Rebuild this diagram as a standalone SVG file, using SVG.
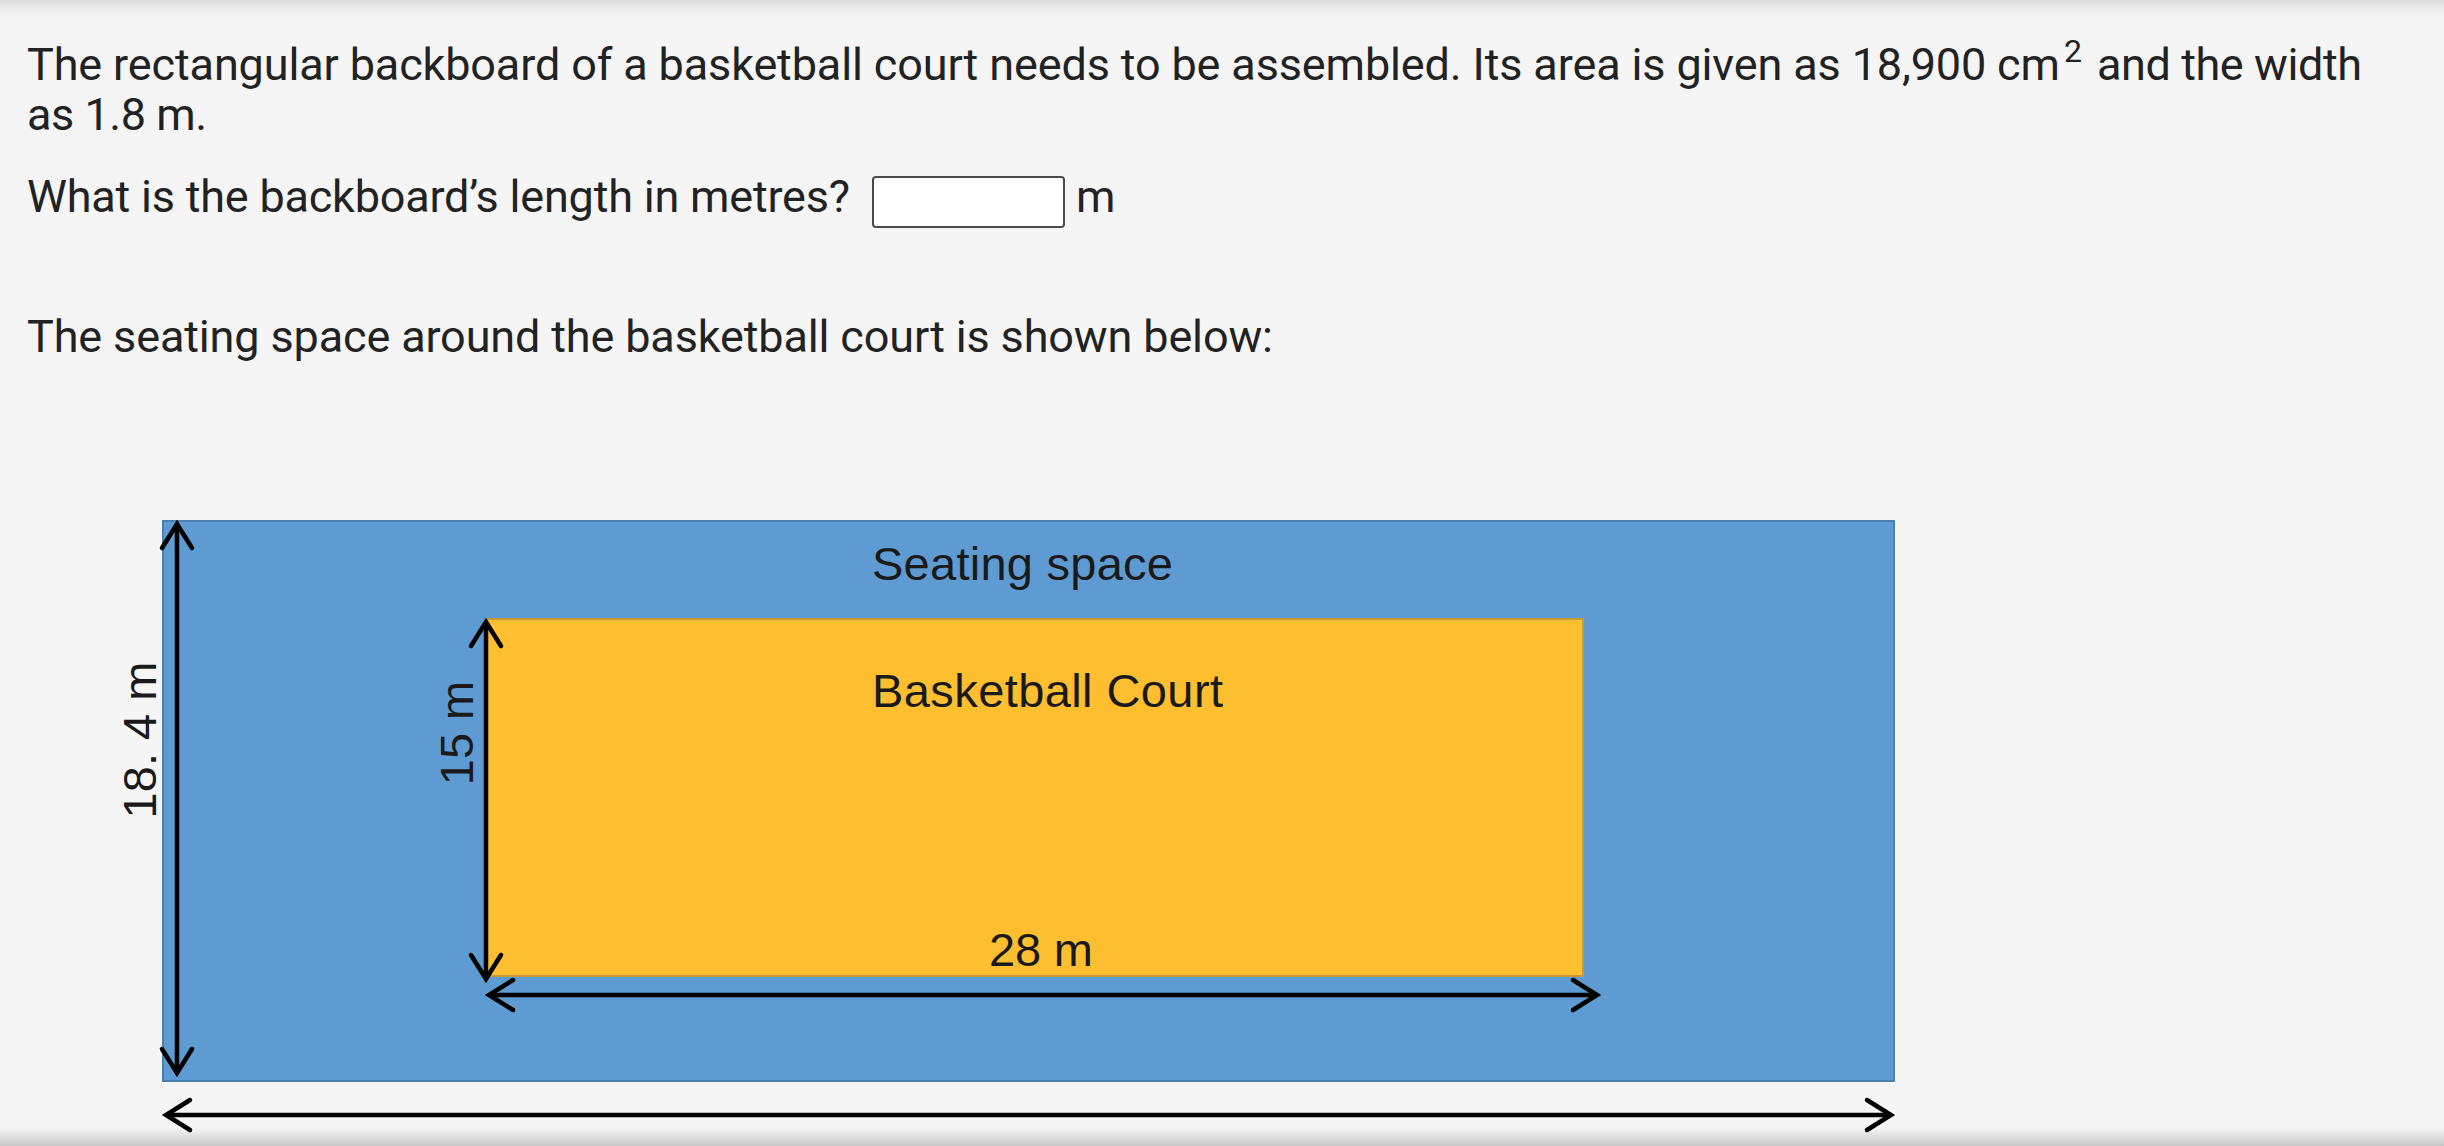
<svg xmlns="http://www.w3.org/2000/svg" width="2444" height="1146" viewBox="0 0 2444 1146">
  <defs>
    <linearGradient id="topShade" x1="0" y1="0" x2="0" y2="1">
      <stop offset="0" stop-color="#dedede"/>
      <stop offset="1" stop-color="#f5f5f5"/>
    </linearGradient>
    <linearGradient id="botShade" x1="0" y1="0" x2="0" y2="1">
      <stop offset="0" stop-color="#f5f5f5"/>
      <stop offset="1" stop-color="#c6c6c6"/>
    </linearGradient>
    <marker id="chev" markerUnits="userSpaceOnUse" markerWidth="60" markerHeight="60" refX="0" refY="0" viewBox="-30 -30 60 60" orient="auto-start-reverse" overflow="visible">
      <path d="M -24 -15 L 0 0 L -24 15" fill="none" stroke="#000" stroke-width="4.5" stroke-linecap="round" stroke-linejoin="miter"/>
    </marker>
    <style>
      .q { font-family: Roboto, "Liberation Sans", sans-serif; font-size: 45px; fill: #222222; }
      .lbl { font-family: "Liberation Sans", Arial, sans-serif; font-size: 47px; fill: #1a1a1a; }
      .dim { fill: none; stroke: #000; stroke-width: 4.5; marker-start: url(#chev); marker-end: url(#chev); }
    </style>
  </defs>

  <rect x="0" y="0" width="2444" height="1146" fill="#f5f5f5"/>
  <rect x="0" y="0" width="2444" height="16" fill="url(#topShade)"/>
  <rect x="0" y="1128" width="2444" height="18" fill="url(#botShade)"/>

  <g id="question-text">
    <text class="q" x="27" y="80" textLength="2033">The rectangular backboard of a basketball court needs to be assembled. Its area is given as 18,900 cm</text>
    <text class="q" x="2064" y="62" style="font-size:32px">2</text>
    <text class="q" x="2097" y="80" textLength="265">and the width</text>
    <text class="q" x="27" y="130" textLength="180">as 1.8 m.</text>
    <text class="q" x="27" y="212" textLength="823">What is the backboard’s length in metres?</text>
    <rect x="873" y="177" width="191" height="50" rx="3" fill="#ffffff" stroke="#4a4a4a" stroke-width="2"/>
    <text class="q" x="1076" y="212">m</text>
    <text class="q" x="27" y="352" textLength="1246">The seating space around the basketball court is shown below:</text>
  </g>

  <g id="seating-space">
    <rect x="163" y="521" width="1731" height="560" fill="#5e9bd2" stroke="#4b7fae" stroke-width="2"/>
    <text class="lbl" x="872" y="580" textLength="301">Seating space</text>
  </g>

  <g id="basketball-court">
    <rect x="487" y="619" width="1096" height="357" fill="#fdbe2f" stroke="#c99a34" stroke-width="2"/>
    <text class="lbl" x="872" y="707" textLength="351">Basketball Court</text>
  </g>

  <g id="connectors">
    <line class="dim" x1="177" y1="524" x2="177" y2="1073"/>
    <line class="dim" x1="486" y1="622" x2="486" y2="979"/>
    <line class="dim" x1="489" y1="995" x2="1597" y2="995"/>
    <line class="dim" x1="166" y1="1115" x2="1891" y2="1115"/>
  </g>

  <g id="dimension-labels">
    <text class="lbl" transform="translate(156 740) rotate(-90)" text-anchor="middle">18. 4 m</text>
    <text class="lbl" transform="translate(473 733) rotate(-90)" text-anchor="middle">15 m</text>
    <text class="lbl" x="989" y="966" textLength="104">28 m</text>
  </g>
</svg>
